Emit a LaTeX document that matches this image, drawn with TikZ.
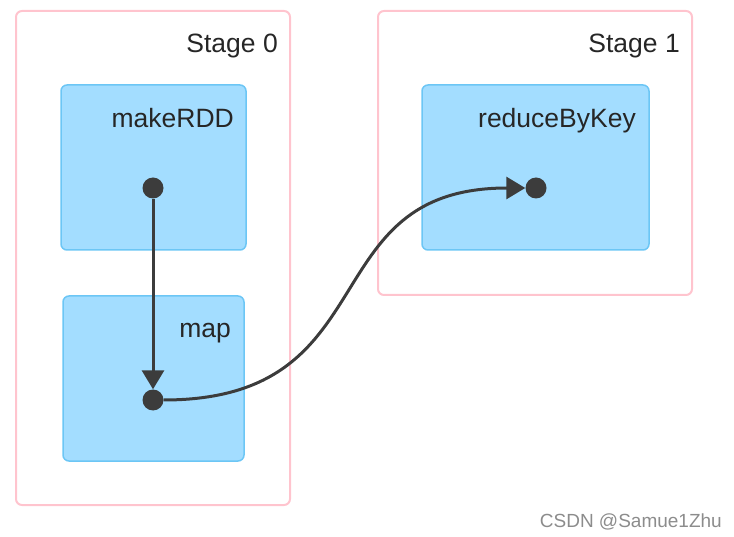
\documentclass[tikz,border=0pt]{standalone}
\usepackage{fontspec}
\setmainfont{Liberation Sans}
\usetikzlibrary{arrows.meta}
\definecolor{stagepink}{HTML}{FFC4CE}
\definecolor{opfill}{HTML}{A3DDFF}
\definecolor{opline}{HTML}{6CC6F5}
\definecolor{dotgray}{HTML}{3C3C3C}
\begin{document}
\begin{tikzpicture}[x=1pt,y=-1pt,
  stagebox/.style={draw=stagepink,line width=2pt,rounded corners=6pt},
  opbox/.style={draw=opline,fill=opfill,line width=1.5pt,rounded corners=6pt},
  lbl/.style={anchor=base east,inner sep=0pt,font=\fontsize{26.5}{30}\selectfont,text=black!85},
  dot/.style={circle,fill=dotgray,minimum size=21pt,inner sep=0pt},
  flow/.style={draw=dotgray,line width=3pt,-{Triangle[length=19pt,width=22pt]}}
]
\useasboundingbox (0,0) rectangle (734,537);
\draw[stagebox] (16,11) rectangle (290,505);
\draw[stagebox] (378,11) rectangle (692,295);
\node[lbl] (s0) at (278,53) {Stage 0};
\node[lbl] (s1) at (680,53) {Stage 1};
\draw[opbox] (61,85) rectangle (246,250);
\draw[opbox] (63,296) rectangle (244,461);
\draw[opbox] (422,85) rectangle (649,250);
\node[lbl] (l1) at (234,128) {makeRDD};
\node[lbl] (l2) at (231,338) {map};
\node[lbl] (l3) at (636,128) {reduceByKey};
\node[dot] (d1) at (153,188) {};
\node[dot] (d2) at (153,400) {};
\node[dot] (d3) at (536,188) {};
\draw[flow] (d1) -- (d2);
\draw[flow] (d2.east) .. controls (390,400) and (310,188) .. (d3.west);
\node[anchor=base east,inner sep=0pt,text=black!45,font=\fontsize{19}{22}\selectfont] (wm) at (722,527) {CSDN @Samue1Zhu};
\end{tikzpicture}
\end{document}
